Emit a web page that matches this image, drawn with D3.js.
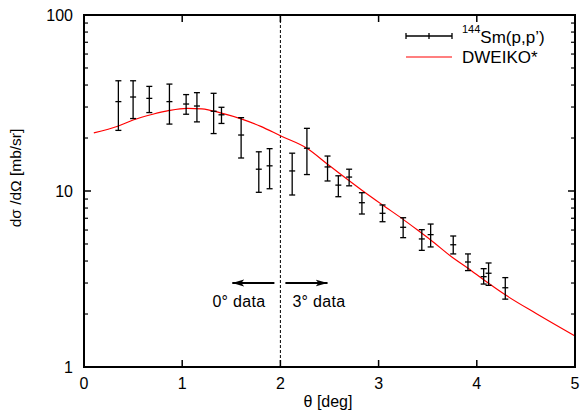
<!DOCTYPE html>
<html>
<head>
<meta charset="utf-8">
<script src="https://cdn.jsdelivr.net/npm/d3@7"></script>
<style>
  body { margin: 0; background: #fff; }
  text { font-family: "Liberation Sans", Arial, sans-serif; fill: #000; }
</style>
</head>
<body>
<svg id="chart" width="580" height="419"></svg>
<script>
// measured data: angle, cross section, lower and upper error limits
var theta = [0.35, 0.50, 0.665, 0.87, 1.04, 1.15, 1.32, 1.40, 1.60, 1.78, 1.89, 2.12, 2.27,
    2.48, 2.59, 2.70, 2.83, 3.04, 3.25, 3.44, 3.53, 3.76, 3.91, 4.07, 4.12, 4.29];
var sigma = [32.2, 34.2, 33.6, 32.2, 31.2, 30.4, 28.4, 27.1, 20.8, 13.3, 13.9, 13.0, 17.5,
    13.7, 10.8, 12.0, 8.58, 7.47, 6.22, 5.34, 5.65, 4.95, 3.95, 3.26, 3.41, 2.82];
var sigmaLo = [22.1, 25.8, 27.9, 24.0, 27.3, 24.7, 21.2, 24.2, 15.4, 9.83, 10.3, 9.49, 12.4,
    11.4, 9.28, 10.7, 7.40, 6.69, 5.43, 4.60, 4.81, 4.39, 3.53, 2.96, 2.91, 2.43];
var sigmaHi = [42.3, 42.3, 39.3, 40.5, 35.3, 36.2, 35.9, 29.9, 26.1, 16.7, 17.4, 16.4, 22.7,
    15.8, 12.2, 13.3, 9.78, 8.33, 7.05, 6.03, 6.49, 5.55, 4.39, 3.62, 3.90, 3.22];

// DWEIKO* calculation
var calcTheta = [0.1, 0.35, 0.5, 0.7, 0.87, 1.05, 1.2, 1.4, 1.6, 1.8, 2.0, 2.27, 2.48, 2.6,
    2.83, 3.04, 3.25, 3.44, 3.53, 3.76, 3.91, 4.07, 4.29, 4.6, 5.0];
var calcSigma = [21.4, 23.4, 25.3, 27.3, 28.7, 29.5, 29.3, 27.7, 25.7, 23.3, 20.6, 17.5, 14.2, 12.6,
    10.1, 8.33, 6.9, 5.75, 5.27, 4.16, 3.64, 3.13, 2.57, 2.02, 1.50];

var xTicks = [0, 1, 2, 3, 4, 5];
var yTicks = [1, 10, 100];

var margin = {left: 84, right: 5, top: 15, bottom: 52};
var width = 580, height = 419;

var svg = d3.select("#chart");

var x = d3.scaleLinear().domain([0, 5]).range([margin.left, width - margin.right]);
var y = d3.scaleLog().domain([1, 100]).range([height - margin.bottom, margin.top]);

var minor = [];
for (var d = 1; d < 100; d *= 10) {
    for (var k = 2; k < 10; k++) minor.push(d * k);
}

var axes = svg.append("g");

// major and minor ticks pointing inward on all four sides
xTicks.forEach(function (t) {
    axes.append("line").attr("x1", x(t)).attr("x2", x(t))
        .attr("y1", y(1)).attr("y2", y(1) - 7).attr("stroke", "#000").attr("stroke-width", 1.5);
    axes.append("line").attr("x1", x(t)).attr("x2", x(t))
        .attr("y1", y(100)).attr("y2", y(100) + 7).attr("stroke", "#000").attr("stroke-width", 1.5);
    axes.append("text").attr("x", x(t)).attr("y", y(1) + 22)
        .attr("text-anchor", "middle").attr("font-size", 16).text(t);
});
yTicks.forEach(function (t) {
    axes.append("line").attr("x1", x(0)).attr("x2", x(0) + 7)
        .attr("y1", y(t)).attr("y2", y(t)).attr("stroke", "#000").attr("stroke-width", 1.5);
    axes.append("line").attr("x1", x(5)).attr("x2", x(5) - 7)
        .attr("y1", y(t)).attr("y2", y(t)).attr("stroke", "#000").attr("stroke-width", 1.5);
    axes.append("text").attr("x", x(0) - 11).attr("y", y(t) + 6)
        .attr("text-anchor", "end").attr("font-size", 16).text(t);
});
minor.forEach(function (t) {
    axes.append("line").attr("x1", x(0)).attr("x2", x(0) + 4)
        .attr("y1", y(t)).attr("y2", y(t)).attr("stroke", "#000").attr("stroke-width", 1.2);
    axes.append("line").attr("x1", x(5)).attr("x2", x(5) - 4)
        .attr("y1", y(t)).attr("y2", y(t)).attr("stroke", "#000").attr("stroke-width", 1.2);
});

// dashed separator at 2 deg
svg.append("line")
    .attr("x1", x(2)).attr("x2", x(2))
    .attr("y1", y(100)).attr("y2", y(1))
    .attr("stroke", "#000").attr("stroke-width", 1)
    .attr("stroke-dasharray", "3 2");

// calculation curve
var line = d3.line()
    .x(function (d) { return x(d[0]); })
    .y(function (d) { return y(d[1]); })
    .curve(d3.curveMonotoneX);

svg.append("path")
    .datum(calcTheta.map(function (t, i) { return [t, calcSigma[i]]; }))
    .attr("fill", "none")
    .attr("stroke", "#ff0000")
    .attr("stroke-width", 1.2)
    .attr("d", line);

// error bars
var pts = theta.map(function (t, i) {
    return {x: t, y: sigma[i], lo: sigmaLo[i], hi: sigmaHi[i]};
});
var bars = svg.append("g").attr("stroke", "#000").attr("stroke-width", 1.3);
pts.forEach(function (p) {
    var cx = x(p.x);
    bars.append("line").attr("x1", cx).attr("x2", cx).attr("y1", y(p.lo)).attr("y2", y(p.hi));
    bars.append("line").attr("x1", cx - 3).attr("x2", cx + 3).attr("y1", y(p.lo)).attr("y2", y(p.lo));
    bars.append("line").attr("x1", cx - 3).attr("x2", cx + 3).attr("y1", y(p.hi)).attr("y2", y(p.hi));
    bars.append("line").attr("x1", cx - 3).attr("x2", cx + 3).attr("y1", y(p.y)).attr("y2", y(p.y));
});

// frame
svg.append("rect")
    .attr("x", x(0)).attr("y", y(100))
    .attr("width", x(5) - x(0)).attr("height", y(1) - y(100))
    .attr("fill", "none").attr("stroke", "#000").attr("stroke-width", 2);

// arrows
svg.append("defs").append("marker")
    .attr("id", "head").attr("viewBox", "0 0 12 10")
    .attr("refX", 12).attr("refY", 5)
    .attr("markerWidth", 12).attr("markerHeight", 10)
    .attr("markerUnits", "userSpaceOnUse")
    .attr("orient", "auto")
    .append("path").attr("d", "M0,1.5 L12,5 L0,8.5 L3,5 Z").attr("fill", "#000");

var arrowY = 283;
svg.append("line").attr("x1", x(2) - 6).attr("x2", x(1.5) + 1).attr("y1", arrowY).attr("y2", arrowY)
    .attr("stroke", "#000").attr("stroke-width", 2).attr("marker-end", "url(#head)");
svg.append("line").attr("x1", x(2) + 5).attr("x2", x(2.48)).attr("y1", arrowY).attr("y2", arrowY)
    .attr("stroke", "#000").attr("stroke-width", 2).attr("marker-end", "url(#head)");

svg.append("text").attr("x", x(2) - 15).attr("y", 307).attr("text-anchor", "end")
    .attr("font-size", 16).attr("letter-spacing", 0.3).text("0° data");
svg.append("text").attr("x", x(2) + 12).attr("y", 307)
    .attr("font-size", 16).attr("letter-spacing", 0.3).text("3° data");

// legend
var lg = svg.append("g");
var lx1 = 406, lx2 = 452, ly1 = 36, ly2 = 57;
lg.append("line").attr("x1", lx1).attr("x2", lx2).attr("y1", ly1).attr("y2", ly1)
    .attr("stroke", "#000").attr("stroke-width", 1.3);
[lx1, (lx1 + lx2) / 2, lx2].forEach(function (v) {
    lg.append("line").attr("x1", v).attr("x2", v).attr("y1", ly1 - 3).attr("y2", ly1 + 3)
        .attr("stroke", "#000").attr("stroke-width", 1.3);
});
var t1 = lg.append("text").attr("x", 462).attr("y", 43).attr("font-size", 17);
t1.append("tspan").attr("font-size", 11).attr("dy", -10).text("144");
t1.append("tspan").attr("dy", 10).text("Sm(p,p’)");
lg.append("line").attr("x1", lx1).attr("x2", lx2).attr("y1", ly2).attr("y2", ly2)
    .attr("stroke", "#ff0000").attr("stroke-width", 1.2);
lg.append("text").attr("x", 462).attr("y", 63).attr("font-size", 17).text("DWEIKO*");

// axis titles
svg.append("text")
    .attr("transform", "translate(21,178) rotate(-90)")
    .attr("text-anchor", "middle").attr("font-size", 15.5)
    .text("dσ /dΩ [mb/sr]");
svg.append("text").attr("x", 328).attr("y", 407)
    .attr("text-anchor", "middle").attr("font-size", 16).text("θ [deg]");
</script>
</body>
</html>
